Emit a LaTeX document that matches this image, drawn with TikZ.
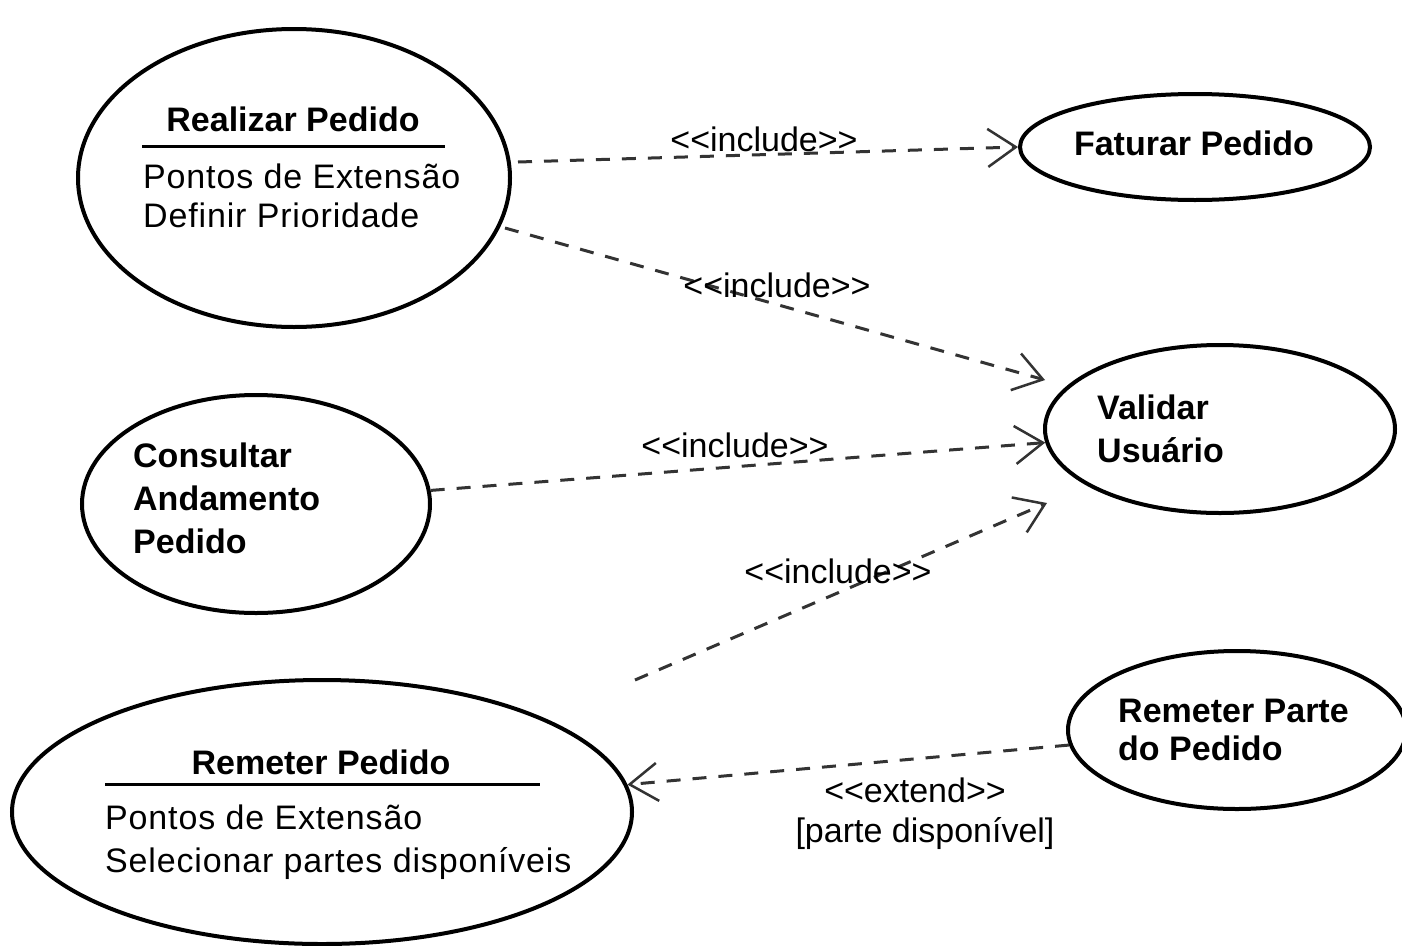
\documentclass[tikz,border=0pt]{standalone}
\usepackage{fontspec}
\setmainfont{Liberation Sans}
\usetikzlibrary{shapes.geometric,arrows.meta,calc}
\begin{document}
\begin{tikzpicture}[x=1pt,y=-1pt,
  uc/.style={draw=black,line width=4pt,ellipse,inner sep=0pt},
  ttl/.style={font=\fontsize{34}{40}\selectfont\bfseries,inner sep=0pt},
  txt/.style={font=\fontsize{34}{40}\selectfont\addfontfeature{LetterSpace=2.5},inner sep=0pt},
  lbl/.style={font=\fontsize{34}{40}\selectfont,inner sep=0pt},
  dep/.style={draw=black!80,line width=3pt,dash pattern=on 14pt off 12pt,
    -{Straight Barb[length=28pt,width=38pt,line width=2.5pt]}},
  sep/.style={line width=3pt}]
\fill[white] (0,0) rectangle (1402,945);
\useasboundingbox (0,0) rectangle (1402,945);

% use-case ellipses
\node[uc,minimum width=432pt,minimum height=298pt] (rp) at (294,178) {};
\node[uc,minimum width=350pt,minimum height=106pt] (fp) at (1195,147) {};
\node[uc,minimum width=350pt,minimum height=168pt] (vu) at (1220,429) {};
\node[uc,minimum width=348pt,minimum height=218pt] (cap) at (256,504) {};
\node[uc,minimum width=620pt,minimum height=264pt] (rem) at (322,812) {};
\node[uc,minimum width=338pt,minimum height=158pt] (rpp) at (1237,730) {};

% texts
\node[ttl,anchor=base] (rpT) at (293,131) {Realizar Pedido};
\draw[sep] (142,146) -- (445,146);
\node[txt,anchor=base west] (rpA) at (143,188) {Pontos de Extensão};
\node[txt,anchor=base west] (rpB) at (143,227) {Definir Prioridade};

\node[ttl,anchor=base] (fpT) at (1194,155) {Faturar Pedido};

\node[ttl,anchor=base west] (vuA) at (1097,419) {Validar};
\node[ttl,anchor=base west] (vuB) at (1097,462) {Usuário};

\node[ttl,anchor=base west] (capA) at (133,467) {Consultar};
\node[ttl,anchor=base west] (capB) at (133,510) {Andamento};
\node[ttl,anchor=base west] (capC) at (133,553) {Pedido};

\node[ttl,anchor=base] (remT) at (321,774) {Remeter Pedido};
\draw[sep] (105,784) -- (540,784);
\node[txt,anchor=base west] (remA) at (105,829) {Pontos de Extensão};
\node[txt,anchor=base west] (remB) at (105,872) {Selecionar partes disponíveis};

\node[ttl,anchor=base west] (rppA) at (1118,722) {Remeter Parte};
\node[ttl,anchor=base west] (rppB) at (1118,760) {do Pedido};

% free ends of connectors
\coordinate (s1) at (518,162);
\coordinate (s2) at (505,228);
\coordinate (e2) at (1045,380);
\coordinate (s4) at (635,680);
\coordinate (e4) at (1047,503);

% connectors
\draw[dep] (s1) -- (fp.west);
\draw[dep] (s2) -- (e2);
\draw[dep] (cap) -- (vu);
\draw[dep] (s4) -- (e4);
\draw[dep] (rpp) -- (rem);

% connector labels
\node[lbl,anchor=base] (l1) at (764,151) {<\kern0pt<include>\kern0pt>};
\node[lbl,anchor=base] (l2) at (777,297) {<\kern0pt<include>\kern0pt>};
\node[lbl,anchor=base] (l3) at (735,457) {<\kern0pt<include>\kern0pt>};
\node[lbl,anchor=base] (l4) at (838,583) {<\kern0pt<include>\kern0pt>};
\node[lbl,anchor=base] (l5) at (915,802) {<\kern0pt<extend>\kern0pt>};
\node[lbl,anchor=base] (l6) at (925,842) {[parte disponível]};
\end{tikzpicture}
\end{document}
